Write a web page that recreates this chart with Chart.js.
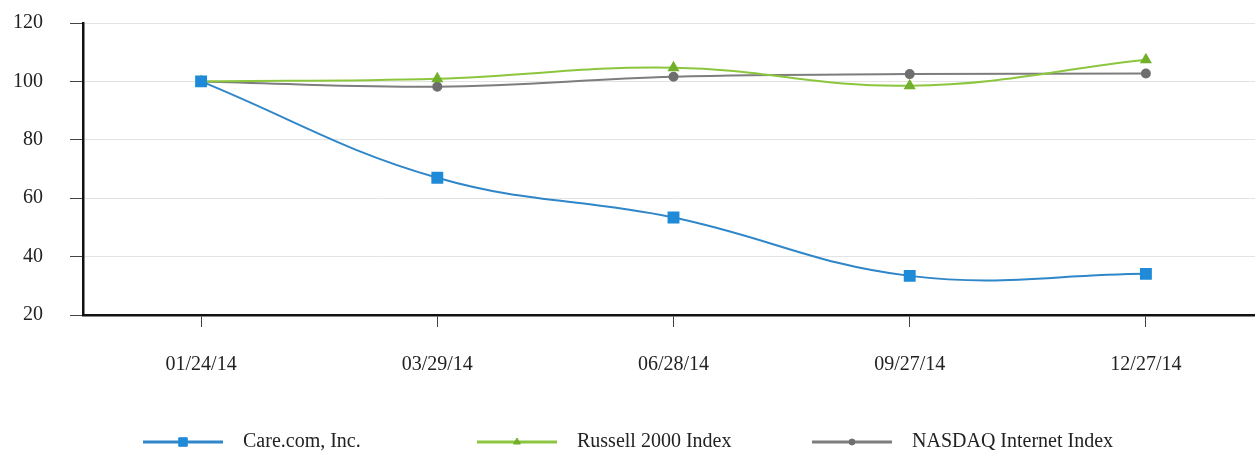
<!DOCTYPE html>
<html>
<head>
<meta charset="utf-8">
<script src="https://cdn.jsdelivr.net/npm/chart.js@4/dist/chart.umd.min.js"></script>
<style>
  html, body { margin: 0; padding: 0; background: #fff; overflow: hidden; }
  #wrap { width: 1273px; height: 467px; margin-top: -16px; }
</style>
</head>
<body>
<div id="wrap"><canvas id="myChart" width="1273" height="467"></canvas></div>
<script>
// Data
var dates = ["01/24/14", "03/29/14", "06/28/14", "09/27/14", "12/27/14"];
var careCom = [100, 67.0, 53.4, 33.4, 34.1];
var russell2000 = [100, 100.9, 104.7, 98.5, 107.4];
var nasdaqInternet = [100, 98.2, 101.6, 102.5, 102.7];
var yTicks = [20, 40, 60, 80, 100, 120];

var serif = "'Liberation Serif', 'Times New Roman', serif";

// Legend drawn under the chart: line, marker, label
var legendPlugin = {
  id: 'lineLegend',
  afterDraw: function (chart) {
    var ctx = chart.ctx;
    var y = 458;
    var startX = [143, 477, 812];
    chart.data.datasets.forEach(function (ds, i) {
      var x0 = startX[i];
      ctx.save();
      ctx.strokeStyle = ds.borderColor;
      ctx.lineWidth = 3;
      ctx.beginPath();
      ctx.moveTo(x0, y);
      ctx.lineTo(x0 + 80, y);
      ctx.stroke();
      ctx.fillStyle = ds.pointBackgroundColor;
      ctx.strokeStyle = ds.pointBackgroundColor;
      ctx.lineWidth = 1;
      Chart.helpers.drawPoint(ctx, {
        pointStyle: ds.pointStyle,
        radius: ds.pointRadius - 1,
        borderWidth: 1
      }, x0 + 40, y);
      ctx.fillStyle = '#222';
      ctx.font = "20px " + serif;
      ctx.textBaseline = 'middle';
      ctx.fillText(ds.label, x0 + 100, y);
      ctx.restore();
    });
  }
};

var ctx = document.getElementById('myChart').getContext('2d');
var myChart = new Chart(ctx, {
  type: 'line',
  data: {
    labels: dates,
    datasets: [{
        label: "Care.com, Inc.",
        data: careCom,
        borderColor: "#2f86c8",
        borderWidth: 2,
        pointStyle: 'rect',
        pointRadius: 7,
        pointBackgroundColor: "#1e8ad8",
        pointBorderColor: "#1e8ad8",
        tension: 0.4
      },
      {
        label: "Russell 2000 Index",
        data: russell2000,
        borderColor: "#8cc63e",
        borderWidth: 2,
        pointStyle: 'triangle',
        pointRadius: 5,
        pointBackgroundColor: "#72b02c",
        pointBorderColor: "#72b02c",
        tension: 0.4
      },
      {
        label: "NASDAQ Internet Index",
        data: nasdaqInternet,
        borderColor: "#7d7d7d",
        borderWidth: 2,
        pointStyle: 'circle',
        pointRadius: 4,
        pointBackgroundColor: "#6e6e6e",
        pointBorderColor: "#6e6e6e",
        tension: 0.4
      }]
  },
  options: {
    responsive: false,
    animation: false,
    layout: { padding: { top: 6, left: 0, right: 0, bottom: 0 } },
    plugins: {
      legend: { display: false },
      tooltip: { enabled: false }
    },
    scales: {
      x: {
        offset: true,
        afterFit: function (scale) { scale.height = 136; },
        grid: {
          drawOnChartArea: false,
          tickLength: 12,
          tickColor: '#444',
          offset: false
        },
        border: { color: '#111', width: 2.5 },
        ticks: {
          color: '#222',
          padding: 26,
          maxRotation: 0,
          font: { family: serif, size: 20 }
        }
      },
      y: {
        min: 20,
        max: 120,
        afterFit: function (scale) { scale.width = 83; },
        afterBuildTicks: function (scale) {
          scale.ticks = yTicks.map(function (v) { return { value: v }; });
        },
        grid: {
          color: '#e3e3e3',
          lineWidth: 1,
          tickLength: 13,
          tickColor: '#444'
        },
        border: { color: '#111', width: 2.5 },
        ticks: {
          color: '#222',
          padding: 27,
          font: { family: serif, size: 20 }
        }
      }
    }
  },
  plugins: [legendPlugin]
});
</script>
</body>
</html>
